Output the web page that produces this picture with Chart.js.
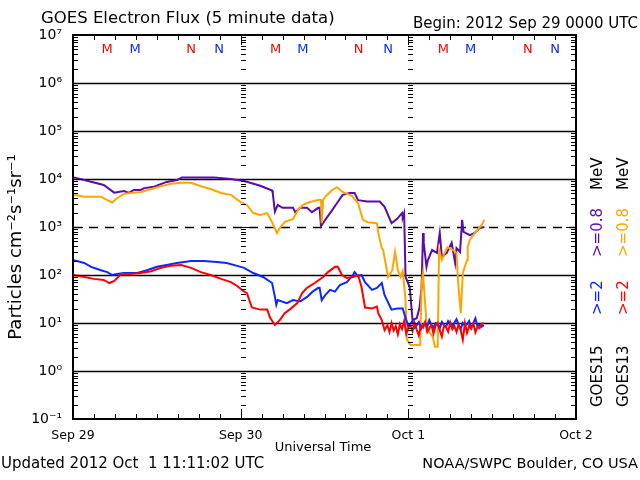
<!DOCTYPE html>
<html>
<head>
<meta charset="utf-8">
<script src="https://cdn.jsdelivr.net/npm/chart.js@4/dist/chart.umd.min.js"></script>
<style>
  html, body { margin: 0; padding: 0; background: #fff; }
  #wrap { width: 640px; height: 480px; }
</style>
</head>
<body>
<div id="wrap"><canvas id="chartCanvas" width="640" height="480"></canvas></div>
<script>
// hours since 2012 Sep 29 00:00 UTC, flux in particles cm-2 s-1 sr-1
const dayLabels = ["Sep 29", "Sep 30", "Oct 1", "Oct 2"];
const dayHours = [0, 24, 48, 72];
const decades = [-1, 0, 1, 2, 3, 4, 5, 6, 7];

// GOES15 >=0.8 MeV
const g15LowHours = [0.1,1.6,4.4,5.9,7.3,8.0,8.7,9.7,10.2,11.6,13.4,14.9,15.6,20.2,22.6,24.5,26.8,28.5,28.6,28.9,
  29.3,30.0,31.5,31.8,32.5,33.5,34.2,35.1,35.3,35.5,36.3,37.1,37.8,38.6,39.6,40.3,40.8,42.1,43.9,44.6,
  45.6,46.4,47.1,47.2,47.4,47.6,48.2,48.6,49.2,49.6,49.9,50.1,50.2,50.6,50.8,51.4,52.1,52.5,52.8,53.5,
  54.2,54.7,54.9,55.4,55.7,55.9,56.8,57.5,58.2,58.9];
const g15LowFlux = [10800,9550,7500,5190,5620,5130,5900,5900,6460,6900,8700,9550,10700,10700,10000,9100,7240,5750,5010,2090,
  2880,2510,2510,2040,2510,2510,2040,2510,2510,1050,1550,2240,3160,4680,5130,5130,3630,3390,3390,2630,
  1200,1480,1950,1580,1950,91,56,11.5,12.6,21,56,750,468,148,204,331,288,750,237,288,
  468,178,363,302,1410,795,676,750,955,1000];

// GOES13 >=0.8 MeV
const g13LowHours = [0.1,1.6,3.0,4.0,4.9,5.6,6.3,7.3,8.3,9.7,11.2,12.6,14.0,15.5,16.9,18.3,19.7,21.2,22.6,24.0,
  24.9,25.8,26.8,27.8,28.5,29.2,29.6,30.3,31.5,32.2,32.9,33.9,35.1,35.5,35.6,35.8,36.1,37.1,37.8,38.6,
  39.9,40.8,41.5,42.2,43.5,43.7,44.2,44.4,45.1,45.7,46.1,46.5,46.9,47.2,47.6,47.8,48.3,49.7,49.9,50.1,
  50.6,51.0,51.5,51.8,52.2,52.4,52.8,53.2,53.6,54.4,54.9,55.1,55.5,55.8,56.4,56.5,56.8,57.5,58.5,58.9];
const g13LowFlux = [4680,4270,4270,4270,3630,3240,3980,4900,5130,5370,6170,7080,7940,8320,8320,7080,6170,5130,4680,3310,
  2880,1950,1780,1950,1260,750,955,1260,1480,2240,2880,3310,3630,3630,1200,3630,4270,5900,6760,5370,
  4470,3160,1410,1260,1200,750,363,331,91,126,302,126,91,120,30,4.5,3.5,3.5,68,110,
  10,6.5,5.1,3.2,3.2,331,204,288,380,331,288,79,16,110,204,380,537,750,1100,1410];

// GOES15 >=2 MeV
const g15HighHours = [0.1,1.6,2.6,4.0,4.9,5.6,6.3,7.3,9.2,10.6,12.0,13.4,14.9,16.9,18.7,20.6,22.0,23.5,24.5,25.8,
  27.2,28.5,28.9,29.1,29.3,30.6,31.5,32.5,33.5,34.3,35.1,35.3,35.6,36.1,36.8,37.5,38.2,39.2,40.1,40.3,
  40.8,41.3,41.8,42.8,43.5,44.2,44.6,45.6,46.4,47.2,
  47.7,48.0,48.3,48.6,48.9,49.2,49.5,49.8,50.1,50.4,50.7,51.0,51.3,51.6,51.9,52.2,52.5,52.8,53.1,53.4,
  53.7,54.0,54.3,54.6,54.9,55.2,55.5,55.8,56.1,56.4,56.7,57.0,57.3,57.6,57.9,58.2,58.5,58.8];
const g15HighFlux = [204,178,148,126,115,100,105,110,110,126,148,162,178,195,195,186,178,155,141,110,
  91,68,35,24,30,26,30,28,35,45,54,54,30,38,49,45,62,71,100,115,
  95,100,71,49,54,68,38,19,20,20,
  11.5,8.5,9.5,11,8,9,10.5,7.5,9,10,8.5,11.5,9,8,10,9.5,7.8,10.5,9,8.2,
  11,9.6,8.4,10.2,12,9,7.5,10,8.8,9.4,11,8,9.8,12.5,8.6,9.2,8.4,9];

// GOES13 >=2 MeV
const g13HighHours = [0.1,1.6,3.0,4.4,5.2,5.9,6.9,8.3,9.7,11.2,12.6,14.0,15.5,16.9,18.3,19.7,21.2,22.6,23.5,24.5,
  24.9,25.6,26.8,27.8,28.2,28.9,29.6,30.3,31.0,32.1,32.8,33.5,34.6,35.8,36.5,37.5,37.9,38.5,39.2,40.1,
  40.8,41.3,41.8,42.8,43.5,43.7,44.2,44.6,
  45.0,45.3,45.6,45.9,46.2,46.5,46.8,47.1,47.4,47.7,48.0,48.3,48.6,48.9,49.2,49.5,49.8,50.1,50.4,50.7,
  51.0,51.3,51.6,51.9,52.2,52.5,52.8,53.1,53.4,53.7,54.0,54.3,54.6,54.9,55.2,55.5,55.8,56.1,56.4,56.7,
  57.0,57.3,57.6,57.9,58.2,58.5,58.8];
const g13HighFlux = [100,91,83,79,68,75,105,105,110,120,141,155,162,141,115,100,83,71,59,45,
  42,21,19,19,13,9.1,11.5,16,19,26,42,54,68,91,115,148,148,100,87,91,
  100,56,21,20,22,16,11.5,7.1,
  9,6.5,10,7,8.5,5.8,9.5,7.5,11,6,8,9,6.8,10,7.2,5.5,9,8,10.5,6.5,
  7.8,9.2,6,8.8,10,7,5.2,9,8.2,6.6,10.2,7.4,8.6,6.5,9.4,7,4.5,10,6.2,8.8,
  7.6,9.8,6.4,8.4,7.8,9.6,10];

// magnetopause crossing markers (M) and noon (N), hours
const g13MarkHours = [4.9, 16.9, 29.0, 40.9, 53.0, 65.1];
const g15MarkHours = [8.9, 20.9, 32.9, 45.1, 56.9, 69.0];
const markLetters = ["M", "N", "M", "N", "M", "N"];

const RED = "#ff0000", BLUE = "#0a28ff", ORANGE = "#ffa500", PURPLE = "#5c0ca8";
const FONT = "'DejaVu Sans', sans-serif";

function pts(hours, vals) {
  return hours.map((h, i) => ({ x: h, y: vals[i] }));
}

const SUP = { "-": "\u207B", "0": "\u2070", "1": "\u00B9", "2": "\u00B2", "3": "\u00B3",
  "4": "\u2074", "5": "\u2075", "6": "\u2076", "7": "\u2077" };
function sup(n) {
  return String(n).split("").map(c => SUP[c]).join("");
}

const goesPlugin = {
  id: "goes",
  beforeDatasetsDraw(chart) {
    const c = chart.ctx, a = chart.chartArea, ys = chart.scales.y;
    c.save();
    c.strokeStyle = "#000";
    c.lineWidth = 1.5;
    decades.forEach(d => {
      if (d <= -1 || d >= 7) return;
      const y = Math.round(ys.getPixelForValue(Math.pow(10, d))) + 0.5;
      c.setLineDash(d === 3 ? [9, 7] : []);
      c.beginPath(); c.moveTo(a.left, y); c.lineTo(a.right, y); c.stroke();
    });
    c.restore();
  },
  afterDatasetsDraw(chart) {
    const c = chart.ctx, a = chart.chartArea, xs = chart.scales.x, ys = chart.scales.y;
    c.save();
    c.strokeStyle = "#000";
    c.lineWidth = 1;
    // log minor ticks on left, right, and on day boundaries
    const cols = [[a.left, 1], [a.right, -1]];
    [24, 48].forEach(h => cols.push([Math.round(xs.getPixelForValue(h)), 1]));
    cols.forEach(([x0, dir]) => {
      decades.forEach(d => {
        if (d >= 7) return;
        for (let k = 1; k <= 9; k++) {
          const v = k * Math.pow(10, d);
          const y = Math.round(ys.getPixelForValue(v)) + 0.5;
          const len = k === 1 ? 10 : 5;
          c.beginPath(); c.moveTo(x0, y); c.lineTo(x0 + dir * len, y); c.stroke();
        }
      });
      const yt = a.top + 0.5;
      c.beginPath(); c.moveTo(x0, yt); c.lineTo(x0 + dir * 10, yt); c.stroke();
    });
    // time ticks every 3 hours, bottom and top
    for (let h = 0; h <= 72; h += 3) {
      const x = Math.round(xs.getPixelForValue(h)) + 0.5;
      const len = h % 24 === 0 ? 10 : 5;
      c.beginPath(); c.moveTo(x, a.bottom); c.lineTo(x, a.bottom - len); c.stroke();
      c.beginPath(); c.moveTo(x, a.top); c.lineTo(x, a.top + len); c.stroke();
    }
    // frame
    c.lineWidth = 2;
    c.strokeRect(a.left, a.top, a.right - a.left, a.bottom - a.top);
    // M / N markers
    c.font = "13px " + FONT;
    c.textAlign = "center";
    c.textBaseline = "middle";
    g13MarkHours.forEach((h, i) => {
      c.fillStyle = RED;
      c.fillText(markLetters[i], xs.getPixelForValue(h), 50);
    });
    g15MarkHours.forEach((h, i) => {
      c.fillStyle = BLUE;
      c.fillText(markLetters[i], xs.getPixelForValue(h), 50);
    });
    c.restore();
  },
  afterDraw(chart) {
    const c = chart.ctx;
    c.save();
    c.fillStyle = "#000";
    c.textBaseline = "alphabetic";
    c.font = "16.5px " + FONT;
    c.textAlign = "left";
    c.fillText("GOES Electron Flux (5 minute data)", 41, 23);
    c.font = "15px " + FONT;
    c.textAlign = "right";
    c.fillText("Begin: 2012 Sep 29 0000 UTC", 638, 28);
    c.font = "13px " + FONT;
    c.textAlign = "center";
    c.fillText("Universal Time", 323, 451);
    c.font = "15px " + FONT;
    c.textAlign = "left";
    c.fillText("Updated 2012 Oct  1 11:11:02 UTC", 1, 468);
    c.font = "14.5px " + FONT;
    c.textAlign = "right";
    c.fillText("NOAA/SWPC Boulder, CO USA", 638, 468);
    // y title
    c.save();
    c.translate(21, 247);
    c.rotate(-Math.PI / 2);
    c.textAlign = "center";
    c.font = "18px " + FONT;
    c.fillText("Particles cm\u207B\u00B2s\u207B\u00B9sr\u207B\u00B9", 0, 0);
    c.restore();
    // right side series labels
    const columns = [
      [602, [["GOES15", "#000", 407], [">=2", BLUE, 315], [">=0.8", PURPLE, 257], ["MeV", "#000", 190]]],
      [628, [["GOES13", "#000", 407], [">=2", RED, 315], [">=0.8", ORANGE, 257], ["MeV", "#000", 190]]]
    ];
    c.font = "15px " + FONT;
    c.textAlign = "left";
    columns.forEach(([x, segs]) => {
      segs.forEach(([txt, col, y]) => {
        c.save();
        c.translate(x, y);
        c.rotate(-Math.PI / 2);
        c.fillStyle = col;
        c.fillText(txt, 0, 0);
        c.restore();
      });
    });
    c.restore();
  }
};

const lineStyle = { pointRadius: 0, borderWidth: 2, tension: 0, fill: false };

new Chart(document.getElementById("chartCanvas").getContext("2d"), {
  type: "line",
  data: {
    datasets: [
      { label: "GOES13 >=2 MeV", data: pts(g13HighHours, g13HighFlux), borderColor: RED, ...lineStyle },
      { label: "GOES15 >=2 MeV", data: pts(g15HighHours, g15HighFlux), borderColor: BLUE, ...lineStyle },
      { label: "GOES13 >=0.8 MeV", data: pts(g13LowHours, g13LowFlux), borderColor: ORANGE, ...lineStyle },
      { label: "GOES15 >=0.8 MeV", data: pts(g15LowHours, g15LowFlux), borderColor: PURPLE, ...lineStyle }
    ]
  },
  options: {
    responsive: false,
    animation: false,
    layout: { padding: { left: 0, right: 64, top: 35, bottom: 0 } },
    plugins: { legend: { display: false }, tooltip: { enabled: false } },
    scales: {
      x: {
        type: "linear",
        min: 0, max: 72,
        afterBuildTicks: s => { s.ticks = dayHours.map(v => ({ value: v })); },
        afterFit: s => { s.height = 61; },
        grid: { display: false, drawTicks: false },
        border: { display: false },
        ticks: {
          autoSkip: false, maxRotation: 0, padding: 9, color: "#000",
          font: { family: FONT, size: 12.5 },
          callback: (v, i) => dayLabels[i]
        }
      },
      y: {
        type: "logarithmic",
        min: 0.1, max: 1e7,
        afterBuildTicks: s => { s.ticks = decades.map(d => ({ value: Math.pow(10, d) })); },
        afterFit: s => { s.width = 73; },
        grid: { display: false, drawTicks: false },
        border: { display: false },
        ticks: {
          padding: 11, color: "#000",
          font: { family: FONT, size: 14 },
          callback: (v, i) => "10" + sup(decades[i])
        }
      }
    }
  },
  plugins: [goesPlugin]
});
</script>
</body>
</html>
